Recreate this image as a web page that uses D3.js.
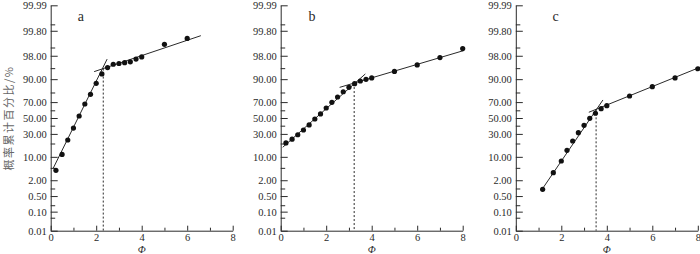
<!DOCTYPE html>
<html>
<head>
<meta charset="utf-8">
<script src="https://cdn.jsdelivr.net/npm/d3@7"></script>
<style>
  body { margin: 0; background: #fff; }
  svg { display: block; }
  svg text { font-family: "Liberation Serif", "Times New Roman", serif; }
  svg text.cjk { font-family: "Noto Sans CJK SC", sans-serif; }
</style>
</head>
<body>
<div id="chart"></div>
<script>
// sizes
const WIDTH = 700;
const HEIGHT = 254;
const PANEL_LEFT = [50.7, 280.7, 515.8];
const PANEL_W = 182;
const TOP = 5.3;
const BOTTOM = 230.7;

// axis ticks
const yMajor = [0.01, 0.1, 0.5, 2, 10, 30, 50, 70, 90, 98, 99.8, 99.99];
const yMinor = [0.05, 0.2, 1, 5, 20, 40, 60, 80, 95, 99, 99.9];
const xMajor = [0, 2, 4, 6, 8];
const xMinor = [1, 3, 5, 7];

// panel a
const phiA = [0.23, 0.5, 0.75, 1.0, 1.25, 1.5, 1.75, 2.0, 2.25, 2.5, 2.75, 3.0, 3.25, 3.5, 3.75, 4.0, 5.0, 6.0];
const pctA = [4.2, 11.5, 23.4, 37, 52.6, 67.8, 78.3, 87.4, 92.7, 95.2, 96.2, 96.4, 96.6, 96.8, 97.4, 97.8, 99.25, 99.57];
const lowFitA = [[0.11, 4.85], [2.48, 97.4]];
const highFitA = [[1.91, 93.7], [6.6, 99.67]];
const breakA = 2.31;

// panel b
const phiB = [0.23, 0.5, 0.75, 1.0, 1.25, 1.5, 1.75, 2.0, 2.25, 2.5, 2.75, 3.0, 3.25, 3.5, 3.75, 4.0, 5.0, 6.0, 7.0, 8.0];
const pctB = [20.5, 24.2, 29, 34.6, 40.9, 48.7, 55.3, 62.9, 69.8, 75.6, 80.7, 84.4, 87.1, 88.9, 89.9, 90.7, 93.8, 96.0, 97.7, 98.9];
const lowFitB = [[0.09, 16.7], [3.72, 92.7]];
const highFitB = [[2.59, 84.4], [8.05, 98.7]];
const breakB = 3.23;

// panel c
const phiC = [1.18, 1.65, 2.0, 2.25, 2.5, 2.75, 3.0, 3.25, 3.5, 3.75, 4.0, 5.0, 6.0, 7.0, 8.0];
const pctC = [0.93, 3.55, 7.8, 14.3, 22.4, 31.4, 40.4, 49.6, 56.2, 62.1, 65.8, 76.6, 84.9, 90.7, 94.8];
const lowFitC = [[1.18, 1.0], [3.83, 72.4]];
const highFitC = [[3.21, 57.5], [8.0, 95]];
const breakC = 3.53;

const panelNames = ["a", "b", "c"];
const letterPhi = [1.33, 1.38, 1.75];

const panels = [
  { phi: phiA, pct: pctA, low: lowFitA, high: highFitA, brk: breakA },
  { phi: phiB, pct: pctB, low: lowFitB, high: highFitB, brk: breakB },
  { phi: phiC, pct: pctC, low: lowFitC, high: highFitC, brk: breakC },
];

// inverse normal cdf (Acklam)
function probit(p) {
  const a = [-39.69683028665376, 220.9460984245205, -275.9285104469687, 138.357751867269, -30.66479806614716, 2.506628277459239];
  const b = [-54.47609879822406, 161.5858368580409, -155.6989798598866, 66.80131188771972, -13.28068155288572];
  const c = [-0.007784894002430293, -0.3223964580411365, -2.400758277161838, -2.549732539343734, 4.374664141464968, 2.938163982698783];
  const d = [0.007784695709041462, 0.3224671290700398, 2.445134137142996, 3.754408661907416];
  const pl = 0.02425;
  let q, r;
  if (p < pl) {
    q = Math.sqrt(-2 * Math.log(p));
    return (((((c[0] * q + c[1]) * q + c[2]) * q + c[3]) * q + c[4]) * q + c[5]) /
      ((((d[0] * q + d[1]) * q + d[2]) * q + d[3]) * q + 1);
  } else if (p <= 1 - pl) {
    q = p - 0.5;
    r = q * q;
    return (((((a[0] * r + a[1]) * r + a[2]) * r + a[3]) * r + a[4]) * r + a[5]) * q /
      (((((b[0] * r + b[1]) * r + b[2]) * r + b[3]) * r + b[4]) * r + 1);
  }
  q = Math.sqrt(-2 * Math.log(1 - p));
  return -(((((c[0] * q + c[1]) * q + c[2]) * q + c[3]) * q + c[4]) * q + c[5]) /
    ((((d[0] * q + d[1]) * q + d[2]) * q + d[3]) * q + 1);
}

const zScale = d3.scaleLinear()
  .domain([probit(0.0001), probit(0.9999)])
  .range([BOTTOM, TOP]);
// percent -> pixel, shaped enough like a d3 scale for the axis
const y = (pct) => zScale(probit(pct / 100));
y.copy = () => y;
y.range = () => [BOTTOM, TOP];
y.domain = () => [0.01, 99.99];

const svg = d3.select("#chart")
  .append("svg")
  .attr("width", WIDTH)
  .attr("height", HEIGHT);

const ink = "#2a2a2a";

function styleAxis(a) {
  a.select(".domain").attr("stroke", ink);
  a.selectAll(".tick line").attr("stroke", ink);
  a.selectAll("text").attr("font-size", 10.5).attr("fill", ink);
}

panels.forEach((p, i) => {
  const x = d3.scaleLinear().domain([0, 8]).range([PANEL_LEFT[i], PANEL_LEFT[i] + PANEL_W]);
  const g = svg.append("g");

  // y axis, ticks inside
  g.append("g")
    .attr("transform", `translate(${PANEL_LEFT[i]},0)`)
    .call(d3.axisLeft(y).tickValues(yMajor).tickSize(-7).tickSizeOuter(0).tickPadding(4)
      .tickFormat((d) => d.toFixed(2)))
    .call(styleAxis);
  g.append("g")
    .attr("transform", `translate(${PANEL_LEFT[i]},0)`)
    .call(d3.axisLeft(y).tickValues(yMinor).tickSize(-4.5).tickSizeOuter(0).tickFormat(""))
    .call((a) => {
      a.select(".domain").remove();
      a.selectAll(".tick line").attr("stroke", ink);
    });

  // x axis, ticks inside
  g.append("g")
    .attr("transform", `translate(0,${BOTTOM})`)
    .call(d3.axisBottom(x).tickValues(xMajor).tickSize(-5).tickSizeOuter(0).tickPadding(3))
    .call(styleAxis);
  g.append("g")
    .attr("transform", `translate(0,${BOTTOM})`)
    .call(d3.axisBottom(x).tickValues(xMinor).tickSize(-3).tickSizeOuter(0).tickFormat(""))
    .call((a) => {
      a.select(".domain").remove();
      a.selectAll(".tick line").attr("stroke", ink);
    });

  // x label
  g.append("text")
    .attr("x", x(4))
    .attr("y", 253)
    .attr("text-anchor", "middle")
    .attr("font-size", 10.5)
    .attr("font-style", "italic")
    .attr("fill", ink)
    .text("Φ");

  // panel letter
  g.append("text")
    .attr("x", x(letterPhi[i]))
    .attr("y", 21)
    .attr("text-anchor", "middle")
    .attr("font-size", 14)
    .attr("fill", ink)
    .text(panelNames[i]);

  // fitted lines
  const line = d3.line((d) => x(d[0]), (d) => y(d[1]));
  [p.low, p.high].forEach((seg) => {
    g.append("path")
      .attr("d", line(seg))
      .attr("fill", "none")
      .attr("stroke", ink)
      .attr("stroke-width", 1);
  });

  // break point dashed line (from the upper fit line down to the axis)
  const zh0 = probit(p.high[0][1] / 100);
  const zh1 = probit(p.high[1][1] / 100);
  const zb = zh0 + (zh1 - zh0) * (p.brk - p.high[0][0]) / (p.high[1][0] - p.high[0][0]);
  g.append("line")
    .attr("x1", x(p.brk))
    .attr("x2", x(p.brk))
    .attr("y1", zScale(zb))
    .attr("y2", BOTTOM)
    .attr("stroke", ink)
    .attr("stroke-width", 1)
    .attr("stroke-dasharray", "2,2");

  // points
  g.selectAll("circle")
    .data(p.phi.map((v, k) => [v, p.pct[k]]))
    .join("circle")
    .attr("cx", (d) => x(d[0]))
    .attr("cy", (d) => y(d[1]))
    .attr("r", 2.6)
    .attr("fill", "#111");
});

// y axis title
svg.append("text")
  .attr("class", "cjk")
  .attr("transform", "translate(12.5,118) rotate(-90)")
  .attr("text-anchor", "middle")
  .attr("font-size", 11)
  .attr("letter-spacing", 1.5)
  .attr("fill", "#666")
  .text("概率累计百分比/%");
</script>
</body>
</html>
